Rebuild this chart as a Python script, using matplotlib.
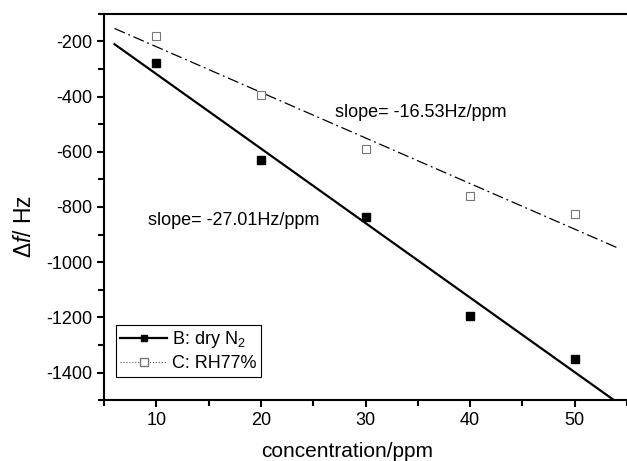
import numpy as np
import matplotlib
matplotlib.use("Agg")
import matplotlib.pyplot as plt
from matplotlib.lines import Line2D

plt.rcParams['font.family'] = ['Liberation Sans', 'DejaVu Sans']
plt.rcParams['mathtext.fontset'] = 'custom'
plt.rcParams['mathtext.rm'] = 'Liberation Sans'
plt.rcParams['mathtext.it'] = 'Liberation Sans:italic'
plt.rcParams['axes.unicode_minus'] = False

# data
conc = [10, 20, 30, 40, 50]
df_dry = [-280, -630, -835, -1196, -1351]
df_rh77 = [-179, -394, -590, -761, -825]
slope_dry = -27.01
slope_rh77 = -16.53
fit_range = [6, 54]

# linear fits through the measured points
fit_x = np.array(fit_range)
b_dry = np.mean(df_dry) - slope_dry * np.mean(conc)
b_rh = np.mean(df_rh77) - slope_rh77 * np.mean(conc)

fig = plt.figure(figsize=(6.27, 4.61), dpi=100)
ax = fig.add_axes([0.166, 0.132, 0.834, 0.838])

ax.plot(fit_x, slope_dry * fit_x + b_dry, color='black', lw=1.6)
ax.plot(fit_x, slope_rh77 * fit_x + b_rh, color='black', lw=0.9,
        linestyle=(0, (9, 3, 1.5, 3)))
ax.plot(conc, df_dry, 's', color='black', ms=5.5, ls='none')
ax.plot(conc, df_rh77, 's', mfc='white', mec='#777777', mew=0.8, ms=6, ls='none')

ax.text(27.1, -456, 'slope= -16.53Hz/ppm', fontsize=13, va='center')
ax.text(9.2, -848, 'slope= -27.01Hz/ppm', fontsize=13, va='center')

ax.set_xlim(5, 55)
ax.set_ylim(-1500, -100)
ax.set_xticks([10, 20, 30, 40, 50])
ax.set_xticks(np.arange(5, 56, 5), minor=True)
ax.set_yticks(np.arange(-1400, -199, 200))
ax.set_yticks(np.arange(-1500, -99, 100), minor=True)
ax.tick_params(which='both', direction='out', width=1.5, labelsize=13,
               top=False, right=False)
ax.tick_params(which='major', length=5)
ax.tick_params(which='minor', length=4)
for s in ['left', 'top', 'bottom']:
    ax.spines[s].set_linewidth(1.5)
ax.spines['right'].set_visible(False)

ax.set_xlabel('concentration/ppm', fontsize=15)
ax.xaxis.set_label_coords(0.465, -0.108)
ax.set_ylabel(r'$\Delta\mathit{f}$/ Hz', fontsize=16.5)
ax.yaxis.set_label_coords(-0.13, 0.45)

handles = [
    Line2D([], [], color='black', lw=1.6, marker='s', ms=5),
    Line2D([], [], color='#555555', lw=0.8, ls=':', marker='s', mfc='white',
           mec='#777777', ms=6),
]
leg = ax.legend(handles, ['B: dry N$_2$', 'C: RH77%'], loc='lower left',
                bbox_to_anchor=(0.022, 0.06), fontsize=13, numpoints=1,
                handlelength=2.6, handletextpad=0.3, borderpad=0.25,
                labelspacing=0.3, fancybox=False, framealpha=1,
                edgecolor='black', borderaxespad=0)
leg.get_frame().set_linewidth(0.8)

fig.savefig('out.png', dpi=100)
